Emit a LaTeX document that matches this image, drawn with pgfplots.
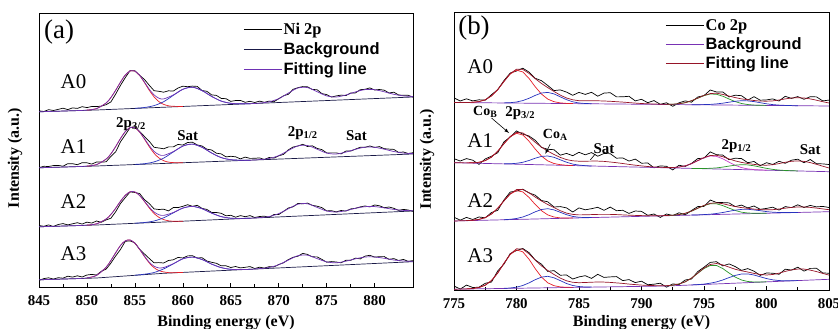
\documentclass[border=0pt]{standalone}
\usepackage{fontspec}
\setmainfont{Liberation Serif}
\setsansfont{Liberation Sans}
\usepackage{pgfplots}
\usepackage{pgfplotstable}
\pgfplotsset{compat=1.18}
\definecolor{bgA}{RGB}{25,25,70}
\definecolor{fitA}{RGB}{110,50,180}
\definecolor{compblue}{RGB}{40,50,190}
\definecolor{compred}{RGB}{230,30,40}
\definecolor{fitB}{RGB}{150,20,40}
\definecolor{bgB}{RGB}{120,50,180}
\definecolor{compgreen}{RGB}{40,150,40}
\definecolor{compmag}{RGB}{200,60,200}

% ---------- Panel (a): Ni 2p raw spectra ----------
\pgfplotstableread{
x A0 A1 A2 A3
845 176.2 119.3 61.5 6.6
845.5 175.5 120.7 60.7 8.4
846 177.3 120.5 62.1 9.2
846.5 176.5 121.4 60.5 7.9
847 177.6 121.6 62.5 9.3
847.5 178.8 120.8 63.4 8.8
848 177.4 123.3 62.1 10.8
848.5 179.1 123.3 63.2 9.9
849 178.6 122.3 64.3 11.2
849.5 180.3 124.3 62.9 10.0
850 179.4 124.2 64.9 12.0
850.5 180.5 122.9 63.9 12.6
851 180.4 125.0 66.0 12.0
851.5 180.9 124.9 64.7 15.7
852 182.3 125.2 67.1 17.9
852.5 185.1 130.6 68.8 23.9
853 193.0 135.2 75.3 31.1
853.5 201.7 145.2 83.5 37.6
854 209.4 152.2 89.4 45.7
854.5 216.4 159.4 95.1 46.1
855 216.2 160.4 94.5 44.1
855.5 211.6 155.4 93.4 37.6
856 207.5 150.5 87.3 33.0
856.5 201.7 145.7 83.4 28.5
857 196.3 139.7 78.1 24.2
857.5 195.7 139.0 77.5 24.4
858 194.8 138.2 77.8 24.0
858.5 196.2 140.1 76.1 26.5
859 195.9 140.1 79.4 27.2
859.5 199.0 142.6 79.4 29.6
860 200.8 141.9 80.7 29.0
860.5 200.3 144.5 82.3 31.1
861 200.9 144.8 80.7 31.3
861.5 200.6 142.1 81.7 29.0
862 196.5 141.0 78.6 29.3
862.5 195.7 137.8 77.6 26.0
863 192.1 137.0 74.6 24.7
863.5 191.6 133.8 74.5 23.7
864 188.6 133.1 73.7 21.2
864.5 188.3 130.1 71.2 21.2
865 185.6 130.7 71.7 19.5
865.5 186.5 130.2 69.8 20.5
866 186.6 128.1 71.4 19.1
866.5 184.7 129.9 70.3 19.7
867 185.7 128.6 71.4 20.4
867.5 184.5 128.7 69.5 18.5
868 185.9 129.1 70.5 19.8
868.5 184.7 127.5 70.8 18.9
869 185.9 129.5 69.6 20.4
869.5 185.3 128.9 72.5 20.0
870 188.3 131.2 72.5 22.5
870.5 191.2 132.6 75.6 24.2
871 192.7 137.1 79.0 27.4
871.5 197.7 140.0 80.2 29.7
872 199.3 141.0 83.6 30.8
872.5 200.4 142.7 83.2 33.6
873 200.2 140.5 83.9 32.6
873.5 197.5 141.2 81.7 30.2
874 197.3 138.6 80.8 30.1
874.5 193.4 137.4 79.4 27.6
875 192.4 134.1 76.1 24.8
875.5 189.9 134.1 76.3 25.4
876 191.1 134.1 75.1 25.0
876.5 191.9 133.1 76.5 24.2
877 191.4 135.9 75.9 26.7
877.5 194.0 135.9 78.1 26.7
878 194.1 137.9 78.7 28.9
878.5 197.3 139.7 80.1 28.1
879 197.7 139.7 81.0 30.9
879.5 199.1 141.0 80.1 31.7
880 197.0 139.6 82.0 29.9
880.5 197.5 140.4 81.2 30.3
881 196.8 138.3 79.3 30.4
881.5 194.0 137.9 80.0 27.7
882 194.8 137.6 78.7 28.4
882.5 192.0 134.6 76.6 26.5
883 191.7 135.0 77.6 27.6
883.5 191.7 133.5 77.0 25.6
884 189.9 134.3 75.6 26.4
}\rawA

% Panel (a): fitting envelopes
\pgfplotstableread{
x A0 A1 A2 A3
845 175.2 119.2 60.2 7.2
846 175.5 119.5 60.5 7.5
847 175.8 119.8 60.8 7.8
848 176.1 120.1 61.1 8.1
849 176.4 120.4 61.4 8.4
850 176.9 120.9 61.9 9.1
851 178.4 122.4 63.2 11.6
852 184.0 127.9 68.0 19.8
852.5 189.5 133.2 72.6 26.6
853 196.8 140.5 78.8 34.3
853.5 204.9 148.5 85.8 41.6
854 212.0 155.4 91.7 46.2
854.5 216.0 159.4 95.2 47.0
855 215.9 159.3 95.1 43.8
855.5 211.6 155.0 91.5 37.7
856 204.8 148.3 85.8 30.8
856.5 197.7 141.3 79.8 24.8
857 192.1 135.6 75.0 20.8
857.5 188.8 132.4 72.3 19.1
858 188.1 131.6 71.6 19.5
859 192.0 135.4 74.5 23.3
860 197.7 140.9 78.9 28.2
861 199.8 142.9 80.6 29.9
862 196.4 139.7 78.3 27.5
863 190.6 134.0 73.9 22.9
864 185.9 129.4 70.4 19.4
865 183.7 127.3 68.8 17.7
866 183.2 126.8 68.6 17.5
867 183.3 126.8 68.8 17.7
868 183.9 127.4 69.4 18.4
869 185.2 128.5 70.5 19.5
870 188.3 131.4 73.4 22.3
871 193.9 136.5 78.2 26.9
872 199.0 141.1 82.8 31.3
873 199.4 141.5 83.2 31.8
874 195.3 137.8 79.6 28.4
875 191.1 133.9 76.0 25.1
876 190.0 133.0 75.0 24.2
877 192.0 134.9 76.3 25.8
878 195.1 137.7 78.7 28.2
879 197.4 139.8 80.3 30.0
880 197.3 139.7 80.4 30.0
881 195.2 137.8 79.1 28.7
882 192.7 135.5 77.6 27.0
883 191.1 133.9 76.6 26.0
884 190.5 133.4 76.3 25.6
}\envA

% Panel (a): main 2p3/2 component
\pgfplotstableread{
x A0 A1 A2 A3
850 176.9 120.9 61.9 9.1
851 178.4 122.4 63.2 11.6
852 184.0 127.9 68.0 19.8
852.5 189.5 133.2 72.6 26.6
853 196.8 140.5 78.8 34.3
853.5 204.9 148.5 85.8 41.6
854 212.0 155.4 91.7 46.2
854.5 216.0 159.4 95.2 47.0
855 215.8 159.2 95.0 43.7
855.5 211.4 154.8 91.4 37.5
856 204.4 147.8 85.4 30.4
856.5 196.7 140.3 79.0 24.0
857 190.1 133.7 73.5 19.3
857.5 185.4 129.1 69.7 16.4
858 182.6 126.3 67.4 15.1
858.5 181.2 124.9 66.2 14.4
859 180.7 124.4 65.8 14.3
860 180.5 124.3 65.8 14.6
}\mainA

% Panel (a): satellite component
\pgfplotstableread{
x A0 A1 A2 A3
855 178.7 122.6 63.8 11.8
856 179.5 123.3 64.5 12.8
857 181.4 125.1 66.0 14.5
858 185.3 128.9 69.2 18.1
859 191.6 135.0 74.1 23.1
860 197.7 140.9 78.9 28.2
861 199.8 142.9 80.6 29.9
862 196.4 139.7 78.3 27.5
863 190.6 134.0 73.9 22.9
864 185.9 129.4 70.4 19.4
865 183.7 127.3 68.8 17.7
866 183.2 126.8 68.6 17.5
867 183.3 126.8 68.8 17.7
}\satA

% ---------- Panel (b): Co 2p raw (r) and envelope (e) ----------
\pgfplotstableread{
x r0 r1 r2 r3 e0 e1 e2 e3
775 192.1 131.3 72.8 4.0 187.5 127.3 69.0 0.8
775.5 189.0 129.0 69.8 0.9 187.5 127.2 69.2 0.9
776 191.2 131.4 72.6 4.9 187.5 127.1 69.4 1.1
776.5 189.1 129.8 70.5 2.5 187.7 127.2 69.8 1.5
777 190.2 125.6 73.0 2.8 188.4 127.7 70.6 2.5
777.5 189.8 131.1 72.2 6.7 190.2 129.4 72.4 4.8
778 195.3 133.8 77.5 8.0 194.1 132.9 76.0 9.5
778.5 200.4 137.3 79.7 19.1 200.4 138.8 81.8 17.0
779 209.5 148.2 90.1 25.9 208.6 146.4 89.2 26.8
779.5 217.0 153.0 98.0 36.5 216.4 153.6 96.2 35.9
780 219.0 159.1 98.9 39.4 220.8 157.6 100.4 41.2
780.5 221.8 155.9 100.8 41.5 220.6 157.1 100.5 40.9
781 217.9 154.0 97.1 37.4 216.6 153.0 97.3 36.1
781.5 211.7 149.7 94.8 30.0 211.3 147.7 92.9 29.8
782 209.3 142.6 89.5 25.8 206.5 142.8 89.0 24.1
782.5 204.5 140.7 88.2 18.6 202.4 138.9 85.5 19.5
783 199.4 140.3 83.0 19.4 198.5 135.5 82.4 15.5
783.5 200.1 134.8 83.4 14.8 194.9 132.6 79.3 11.9
784 197.9 136.6 82.1 15.0 192.0 130.4 76.9 9.2
784.5 194.7 134.3 78.0 11.0 190.2 129.2 75.6 7.7
785 197.6 137.7 82.1 13.1 189.3 128.8 75.1 7.3
785.5 195.6 135.2 80.2 14.3 189.2 128.8 75.2 7.5
786 197.7 137.4 81.3 11.6 189.2 128.9 75.4 7.8
786.5 193.8 133.8 82.7 15.7 189.2 128.9 75.6 8.0
787 196.9 136.5 79.7 12.6 189.0 128.6 75.6 7.9
787.5 197.3 136.3 82.9 13.1 188.7 128.0 75.6 7.6
788 193.1 131.8 79.3 13.4 188.3 127.3 75.4 7.1
788.5 193.2 132.1 79.7 9.4 187.9 126.5 75.1 6.6
789 193.7 128.9 76.6 10.4 187.4 125.6 74.8 5.9
789.5 189.1 130.9 79.0 7.4 186.9 124.8 74.6 5.4
790 190.7 126.8 78.6 8.8 186.5 124.1 74.4 4.9
790.5 187.3 127.0 74.7 5.3 186.2 123.5 74.3 4.6
791 189.4 122.2 76.0 5.8 186.0 123.0 74.3 4.4
791.5 185.7 124.1 72.6 6.8 185.8 122.7 74.3 4.3
792 187.2 123.7 76.0 2.8 185.7 122.5 74.5 4.3
792.5 183.7 120.1 74.5 6.1 185.8 122.5 74.8 4.9
793 187.2 124.7 77.2 5.4 186.3 122.9 75.4 6.0
793.5 189.1 123.6 75.2 10.0 187.3 124.2 76.7 8.2
794 187.8 126.6 79.5 11.0 189.3 126.3 78.9 11.9
794.5 193.0 131.4 83.4 18.4 191.9 129.4 81.8 16.8
795 194.4 131.9 83.6 22.8 194.6 132.4 84.6 22.0
795.5 200.0 138.1 90.0 27.6 196.4 134.5 86.7 25.5
796 198.0 135.3 87.5 28.3 196.8 134.7 87.2 26.5
796.5 198.1 134.9 87.4 24.1 195.6 133.3 86.3 25.1
797 193.1 130.3 87.1 26.1 193.9 131.1 84.8 22.9
797.5 194.8 131.8 83.4 23.4 192.4 129.1 83.4 20.7
798 194.3 131.4 84.9 19.6 191.1 127.6 82.4 19.2
798.5 189.9 127.3 82.1 21.4 190.3 126.5 81.7 18.0
799 193.3 128.5 84.0 18.8 189.5 125.6 80.9 16.6
799.5 189.8 124.3 80.7 14.6 188.9 124.9 80.4 15.5
800 190.1 127.3 81.6 17.0 188.8 124.8 80.2 15.0
800.5 191.1 125.5 82.8 16.8 189.1 125.3 80.3 15.5
801 189.0 128.7 79.9 15.7 190.0 126.4 81.0 16.8
801.5 193.7 126.7 83.4 20.8 191.1 127.7 81.8 18.6
802 191.6 129.8 82.4 19.9 192.0 128.7 82.6 20.1
802.5 193.4 130.8 85.2 22.8 192.3 129.1 83.0 20.9
803 190.7 127.3 82.5 18.9 192.0 128.6 83.0 20.9
803.5 193.3 130.5 84.6 21.6 191.1 127.4 82.6 19.9
804 193.1 126.3 83.1 21.7 189.8 125.7 81.9 18.4
804.5 189.1 126.1 83.6 17.0 188.3 123.8 81.1 16.6
805 189.9 125.5 82.5 16.8 187.0 122.0 80.3 14.9
}\dataB

% Panel (b): Co_B 2p3/2 component
\pgfplotstableread{
x A0 A1 A2 A3
776 187.5 127.1 69.4 1.1
776.5 187.7 127.2 69.8 1.5
777 188.4 127.7 70.6 2.5
777.5 190.2 129.4 72.4 4.8
778 194.1 132.9 76.0 9.5
778.5 200.4 138.8 81.8 17.0
779 208.6 146.3 89.2 26.7
779.5 216.0 153.2 95.9 35.5
780 219.8 156.7 99.4 40.1
780.5 218.1 155.0 98.1 38.2
781 211.6 148.8 92.6 30.8
781.5 203.2 140.9 85.5 21.3
782 195.9 133.9 79.3 12.9
782.5 190.9 129.1 75.1 7.2
783 188.3 126.5 73.0 4.3
783.5 187.1 125.3 72.1 3.1
784 186.6 124.7 71.9 2.7
784.5 186.4 124.45 71.95 2.6
}\mainB

% Panel (b): Co_A component
\pgfplotstableread{
x A0 A1 A2 A3
779 187.1 126.2 70.3 1.65
779.5 187.3 126.2 70.7 2.0
780 188.0 126.7 71.5 2.8
780.5 189.4 127.7 73.0 4.5
781 191.7 129.5 75.3 7.1
781.5 194.6 131.8 78.2 10.3
782 197.0 133.6 80.5 12.9
782.5 197.6 134.0 81.3 13.7
783 196.1 132.7 80.1 12.2
783.5 193.2 130.2 77.7 9.4
784 190.3 127.8 75.3 6.5
784.5 188.2 125.9 73.6 4.5
785 187.0 124.9 72.7 3.4
785.5 186.5 124.3 72.5 3.0
786 186.3 124.0 72.5 2.9
}\coaB

% Panel (b): 2p1/2 main component
\pgfplotstableread{
x A0 A1 A2 A3
792 185.6 122.3 74.4 4.15
792.5 185.75 122.4 74.7 4.8
793 186.2 122.9 75.4 6.0
793.5 187.3 124.1 76.7 8.2
794 189.2 126.3 78.85 11.9
794.5 191.8 129.3 81.7 16.7
795 194.4 132.2 84.45 21.5
795.5 196.0 134.0 86.2 24.5
796 195.7 133.6 86.2 24.5
796.5 193.8 131.2 84.4 21.5
797 191.0 127.85 81.9 17.0
797.5 188.4 124.7 79.5 12.9
798 186.5 122.4 77.8 10.0
798.5 185.45 121.1 77.0 8.5
799 184.9 120.4 76.7 8.0
799.5 184.7 120.0 76.7 8.0
800 184.6 119.8 76.75 8.2
}\pmainB

% Panel (b): 2p1/2 second component
\pgfplotstableread{
x A0 A1 A2 A3
794 185.3 121.6 74.9 5.07
794.5 185.3 121.5 75.1 5.4
795 185.4 121.5 75.4 5.9
795.5 185.6 121.7 75.8 6.8
796 186.1 122.1 76.5 8.1
796.5 186.8 122.9 77.5 10.0
797 187.8 123.9 78.7 12.4
797.5 188.75 124.85 79.85 14.6
798 189.3 125.3 80.6 16.0
798.5 189.1 125.1 80.7 16.1
799 188.4 124.2 80.1 15.0
799.5 187.3 122.9 79.3 13.2
800 186.2 121.65 78.4 11.45
800.5 185.4 120.6 77.8 10.15
801 184.9 119.95 77.5 9.45
801.5 184.6 119.5 77.4 9.2
802 184.4 119.3 77.4 9.3
802.5 184.3 119.05 77.53 9.42
}\psecB

\pgfplotsset{
  xpsaxis/.style={
    scale only axis, no markers,
    axis line style={line width=0.8bp},
    tick align=inside, xtick pos=left, ytick=\empty,
    minor x tick num=1,
    major tick length=4bp, minor tick length=3bp,
    every tick/.style={black, line width=0.6bp},
    xticklabel style={font=\fontsize{15}{15}\selectfont\bfseries, anchor=base, yshift=-18bp},
    /pgf/number format/assume math mode=true,
    /pgf/number format/1000 sep={},
    label style={font=\fontsize{16}{16}\selectfont\bfseries},
    every axis plot/.append style={line width=0.7bp},
    legend style={draw=none, fill=none, inner sep=0pt,
      font=\fontsize{16.5}{16.5}\selectfont\bfseries, cells={anchor=west},
      nodes={inner sep=1.5bp}},
    legend image code/.code={\draw[##1] (0bp,0bp) -- (38bp,0bp);},
  }
}

\begin{document}
\begin{tikzpicture}
\useasboundingbox (0bp,0bp) rectangle (838bp,329bp);

% ================= Panel (a) =================
\begin{axis}[xpsaxis,
  at={(39bp,42bp)}, anchor=south west,
  width=374bp, height=274bp,
  xmin=845, xmax=884, ymin=0, ymax=274,
  xtick={845,850,...,880},
  xlabel={Binding energy (eV)},
  xlabel style={at={(axis description cs:0.5,-0.131)}, anchor=center},
  ylabel={Intensity (a.u.)},
  ylabel style={at={(axis description cs:-0.064,0.47)}, anchor=center},
  legend style={at={(axis cs:866.3,266)}, anchor=north west, row sep=4bp},
]
% A0
\addplot[black] table[x=x,y=A0]{\rawA};
\addlegendentry{Ni 2p}
\addplot[bgA] coordinates {(845,175.2) (851,177) (884,190)};
\addlegendentry{\sffamily Background}
\addplot[compred, smooth, forget plot] table[x=x,y=A0]{\mainA};
\addplot[compblue, smooth, forget plot] table[x=x,y=A0]{\satA};
\addplot[fitA, smooth] table[x=x,y=A0]{\envA};
\addlegendentry{\sffamily Fitting line}
% A1
\addplot[black, forget plot] table[x=x,y=A1]{\rawA};
\addplot[bgA, forget plot] coordinates {(845,119.2) (851,121) (884,133)};
\addplot[compred, smooth, forget plot] table[x=x,y=A1]{\mainA};
\addplot[compblue, smooth, forget plot] table[x=x,y=A1]{\satA};
\addplot[fitA, smooth, forget plot] table[x=x,y=A1]{\envA};
% A2
\addplot[black, forget plot] table[x=x,y=A2]{\rawA};
\addplot[bgA, forget plot] coordinates {(845,60.2) (851,62) (884,76)};
\addplot[compred, smooth, forget plot] table[x=x,y=A2]{\mainA};
\addplot[compblue, smooth, forget plot] table[x=x,y=A2]{\satA};
\addplot[fitA, smooth, forget plot] table[x=x,y=A2]{\envA};
% A3
\addplot[black, forget plot] table[x=x,y=A3]{\rawA};
\addplot[bgA, forget plot] coordinates {(845,7.2) (851,9) (858,13.7) (884,25.3)};
\addplot[compred, smooth, forget plot] table[x=x,y=A3]{\mainA};
\addplot[compblue, smooth, forget plot] table[x=x,y=A3]{\satA};
\addplot[fitA, smooth, forget plot] table[x=x,y=A3]{\envA};

\node[font=\fontsize{27}{27}\selectfont] at (axis cs:847.1,255) {(a)};
\node[font=\fontsize{21}{21}\selectfont] at (axis cs:848.6,205) {A0};
\node[font=\fontsize{21}{21}\selectfont] at (axis cs:848.6,140) {A1};
\node[font=\fontsize{21}{21}\selectfont] at (axis cs:848.6,85) {A2};
\node[font=\fontsize{21}{21}\selectfont] at (axis cs:848.6,33) {A3};
\node[font=\fontsize{15}{15}\selectfont\bfseries] at (axis cs:854.6,163) {2p\textsubscript{3/2}};
\node[font=\fontsize{15}{15}\selectfont\bfseries] at (axis cs:860.5,151) {Sat};
\node[font=\fontsize{15}{15}\selectfont\bfseries] at (axis cs:872.5,154) {2p\textsubscript{1/2}};
\node[font=\fontsize{15}{15}\selectfont\bfseries] at (axis cs:878.1,151) {Sat};
\end{axis}

% ================= Panel (b) =================
\begin{axis}[xpsaxis,
  at={(454bp,39bp)}, anchor=south west,
  width=375bp, height=278bp,
  xmin=775, xmax=805, ymin=0, ymax=278,
  xtick={775,780,...,805},
  xlabel={Binding energy (eV)},
  xlabel style={at={(axis description cs:0.5,-0.118)}, anchor=center},
  ylabel={Intensity (a.u.)},
  ylabel style={at={(axis description cs:-0.072,0.47)}, anchor=center},
  legend style={at={(axis cs:791.9,272.5)}, anchor=north west, row sep=3bp},
]
% A0
\addplot[black] table[x=x,y=r0]{\dataB};
\addlegendentry{Co 2p}
\addplot[bgB] coordinates {(775,187.5) (805,184.0)};
\addlegendentry{\sffamily Background}
\addplot[compred, forget plot] table[x=x,y=A0]{\mainB};
\addplot[compblue, forget plot] table[x=x,y=A0]{\coaB};
\addplot[compgreen, forget plot] table[x=x,y=A0]{\pmainB};
\addplot[compblue, forget plot] table[x=x,y=A0]{\psecB};
\addplot[fitB] table[x=x,y=e0]{\dataB};
\addlegendentry{\sffamily Fitting line}
% A1
\addplot[black, forget plot] table[x=x,y=r1]{\dataB};
\addplot[bgB, forget plot] coordinates {(775,127.3) (805,118.3)};
\addplot[compred, forget plot] table[x=x,y=A1]{\mainB};
\addplot[compblue, forget plot] table[x=x,y=A1]{\coaB};
\addplot[compmag, forget plot] table[x=x,y=A1]{\pmainB};
\addplot[compgreen, forget plot] table[x=x,y=A1]{\psecB};
\addplot[fitB, forget plot] table[x=x,y=e1]{\dataB};
% A2
\addplot[black, forget plot] table[x=x,y=r2]{\dataB};
\addplot[bgB, forget plot] coordinates {(775,69.0) (805,78.3)};
\addplot[compred, forget plot] table[x=x,y=A2]{\mainB};
\addplot[compblue, forget plot] table[x=x,y=A2]{\coaB};
\addplot[compgreen, forget plot] table[x=x,y=A2]{\pmainB};
\addplot[compblue, forget plot] table[x=x,y=A2]{\psecB};
\addplot[fitB, forget plot] table[x=x,y=e2]{\dataB};
% A3
\addplot[black, forget plot] table[x=x,y=r3]{\dataB};
\addplot[bgB, forget plot] coordinates {(775,0.8) (792,4.0) (805,10.7)};
\addplot[compred, forget plot] table[x=x,y=A3]{\mainB};
\addplot[compblue, forget plot] table[x=x,y=A3]{\coaB};
\addplot[compgreen, forget plot] table[x=x,y=A3]{\pmainB};
\addplot[compblue, forget plot] table[x=x,y=A3]{\psecB};
\addplot[fitB, forget plot] table[x=x,y=e3]{\dataB};

\node[font=\fontsize{27}{27}\selectfont] at (axis cs:776.6,262) {(b)};
\node[font=\fontsize{21}{21}\selectfont] at (axis cs:777.1,223) {A0};
\node[font=\fontsize{21}{21}\selectfont] at (axis cs:777.1,149) {A1};
\node[font=\fontsize{21}{21}\selectfont] at (axis cs:777.1,89) {A2};
\node[font=\fontsize{21}{21}\selectfont] at (axis cs:777.1,34) {A3};
\node[font=\fontsize{14}{14}\selectfont\bfseries] at (axis cs:777.5,178) {Co\textsubscript{B}};
\node[font=\fontsize{15}{15}\selectfont\bfseries] at (axis cs:780.3,177) {2p\textsubscript{3/2}};
\draw[-latex, line width=0.6bp] (axis cs:778.0,172) -- (axis cs:779.4,157);
\node[font=\fontsize{14}{14}\selectfont\bfseries] at (axis cs:783.1,155) {Co\textsubscript{A}};
\draw[-latex, line width=0.6bp] (axis cs:782.7,146) -- (axis cs:782.3,136);
\node[font=\fontsize{15}{15}\selectfont\bfseries] at (axis cs:787.0,141) {Sat};
\draw[line width=0.6bp] (axis cs:786.3,136) -- (axis cs:785.9,130);
\node[font=\fontsize{15}{15}\selectfont\bfseries] at (axis cs:797.6,144) {2p\textsubscript{1/2}};
\node[font=\fontsize{15}{15}\selectfont\bfseries] at (axis cs:803.5,140) {Sat};
\end{axis}
\end{tikzpicture}
\end{document}
